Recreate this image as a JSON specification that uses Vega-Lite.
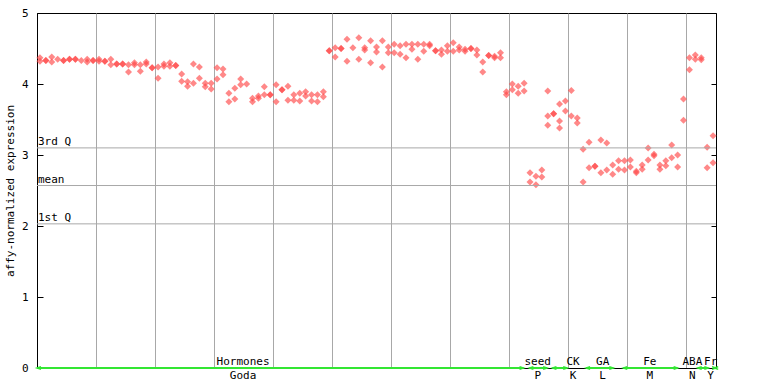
{
  "$schema": "https://vega.github.io/schema/vega-lite/v6.json",
  "width": 679,
  "height": 355,
  "autosize": {"type": "none"},
  "padding": {"left": 37, "top": 13, "right": 52, "bottom": 16},
  "background": "white",
  "config": {
    "view": {"stroke": "black", "strokeWidth": 1},
    "font": "DejaVu Sans Mono",
    "text": {"font": "DejaVu Sans Mono", "fontSize": 11, "color": "black"}
  },
  "datasets": {
    "pts": [
      {"s":1,"v":4.37},{"s":1,"v":4.32},{"s":2,"v":4.33},{"s":2,"v":4.33},{"s":3,"v":4.38},{"s":3,"v":4.31},
      {"s":4,"v":4.35},{"s":5,"v":4.33},{"s":5,"v":4.33},{"s":6,"v":4.35},{"s":6,"v":4.35},{"s":7,"v":4.35},{"s":7,"v":4.35},
      {"s":8,"v":4.33},{"s":9,"v":4.35},{"s":9,"v":4.31},{"s":10,"v":4.33},{"s":10,"v":4.33},{"s":11,"v":4.35},{"s":11,"v":4.32},
      {"s":12,"v":4.32},{"s":12,"v":4.32},{"s":13,"v":4.35},{"s":13,"v":4.27},{"s":14,"v":4.28},{"s":14,"v":4.28},
      {"s":15,"v":4.28},{"s":15,"v":4.28},{"s":16,"v":4.27},{"s":16,"v":4.17},{"s":17,"v":4.30},{"s":17,"v":4.27},
      {"s":18,"v":4.27},{"s":18,"v":4.18},{"s":19,"v":4.31},{"s":19,"v":4.28},{"s":20,"v":4.23},{"s":20,"v":4.23},
      {"s":21,"v":4.24},{"s":21,"v":4.08},{"s":22,"v":4.28},{"s":22,"v":4.25},{"s":23,"v":4.30},{"s":23,"v":4.25},
      {"s":24,"v":4.26},{"s":24,"v":4.26},{"s":25,"v":4.14},{"s":25,"v":4.04},{"s":26,"v":4.03},{"s":26,"v":3.97},
      {"s":27,"v":4.28},{"s":27,"v":4.01},{"s":28,"v":4.24},{"s":28,"v":4.08},{"s":29,"v":4.01},{"s":29,"v":3.96},
      {"s":30,"v":4.01},{"s":30,"v":3.93},{"s":31,"v":4.23},{"s":31,"v":4.07},{"s":32,"v":4.21},{"s":32,"v":4.13},
      {"s":33,"v":3.87},{"s":33,"v":3.75},{"s":34,"v":3.94},{"s":34,"v":3.79},{"s":35,"v":4.07},{"s":35,"v":3.99},
      {"s":36,"v":4.00},{"s":37,"v":3.80},{"s":37,"v":3.75},{"s":38,"v":3.83},{"s":38,"v":3.80},{"s":39,"v":3.96},{"s":39,"v":3.85},
      {"s":40,"v":3.85},{"s":40,"v":3.85},{"s":41,"v":3.99},{"s":41,"v":3.75},{"s":42,"v":3.92},{"s":42,"v":3.92},
      {"s":43,"v":3.97},{"s":43,"v":3.77},{"s":44,"v":3.85},{"s":44,"v":3.77},{"s":45,"v":3.87},{"s":45,"v":3.76},
      {"s":46,"v":3.89},{"s":46,"v":3.83},{"s":47,"v":3.85},{"s":47,"v":3.76},{"s":48,"v":3.85},{"s":48,"v":3.75},
      {"s":49,"v":3.89},{"s":49,"v":3.82},{"s":50,"v":4.47},{"s":50,"v":4.47},{"s":51,"v":4.51},{"s":51,"v":4.38},
      {"s":52,"v":4.50},{"s":52,"v":4.50},{"s":53,"v":4.63},{"s":53,"v":4.32},{"s":54,"v":4.51},{"s":55,"v":4.65},{"s":55,"v":4.35},
      {"s":56,"v":4.51},{"s":56,"v":4.48},{"s":57,"v":4.61},{"s":57,"v":4.30},{"s":58,"v":4.52},{"s":58,"v":4.45},
      {"s":59,"v":4.61},{"s":59,"v":4.24},{"s":60,"v":4.52},{"s":60,"v":4.44},{"s":61,"v":4.56},{"s":61,"v":4.44},
      {"s":62,"v":4.54},{"s":62,"v":4.42},{"s":63,"v":4.56},{"s":63,"v":4.37},{"s":64,"v":4.56},{"s":64,"v":4.49},
      {"s":65,"v":4.56},{"s":65,"v":4.35},{"s":66,"v":4.56},{"s":66,"v":4.46},{"s":67,"v":4.56},{"s":67,"v":4.54},
      {"s":68,"v":4.47},{"s":68,"v":4.47},{"s":69,"v":4.48},{"s":69,"v":4.42},{"s":70,"v":4.54},{"s":70,"v":4.46},
      {"s":71,"v":4.58},{"s":71,"v":4.46},{"s":72,"v":4.52},{"s":72,"v":4.48},{"s":73,"v":4.49},{"s":73,"v":4.46},
      {"s":74,"v":4.50},{"s":74,"v":4.50},{"s":75,"v":4.48},{"s":75,"v":4.41},{"s":76,"v":4.31},{"s":76,"v":4.17},
      {"s":77,"v":4.40},{"s":77,"v":4.40},{"s":78,"v":4.39},{"s":78,"v":4.37},{"s":79,"v":4.44},{"s":79,"v":4.37},
      {"s":80,"v":3.89},{"s":80,"v":3.85},{"s":81,"v":4.00},{"s":81,"v":3.92},{"s":82,"v":3.97},{"s":82,"v":3.87},
      {"s":83,"v":4.01},{"s":83,"v":3.90},{"s":84,"v":2.75},{"s":84,"v":2.62},{"s":85,"v":2.70},{"s":85,"v":2.58},
      {"s":86,"v":2.79},{"s":86,"v":2.69},{"s":87,"v":3.90},{"s":87,"v":3.55},{"s":87,"v":3.42},{"s":88,"v":3.58},{"s":88,"v":3.58},
      {"s":89,"v":3.72},{"s":89,"v":3.48},{"s":89,"v":3.38},{"s":90,"v":3.76},{"s":90,"v":3.62},{"s":91,"v":3.91},{"s":91,"v":3.55},
      {"s":92,"v":3.52},{"s":92,"v":3.45},{"s":93,"v":3.08},{"s":93,"v":2.62},{"s":94,"v":3.18},{"s":94,"v":2.82},
      {"s":95,"v":2.84},{"s":95,"v":2.84},{"s":96,"v":3.21},{"s":96,"v":2.75},{"s":97,"v":3.17},{"s":97,"v":2.79},
      {"s":98,"v":2.86},{"s":98,"v":2.73},{"s":99,"v":2.92},{"s":99,"v":2.80},{"s":100,"v":2.92},{"s":100,"v":2.79},
      {"s":101,"v":2.93},{"s":101,"v":2.83},{"s":102,"v":2.77},{"s":102,"v":2.75},{"s":103,"v":2.86},{"s":103,"v":2.80},
      {"s":104,"v":3.10},{"s":104,"v":2.93},{"s":105,"v":3.01},{"s":105,"v":2.99},{"s":106,"v":2.86},{"s":106,"v":2.80},
      {"s":107,"v":2.92},{"s":107,"v":2.85},{"s":108,"v":3.14},{"s":108,"v":2.96},{"s":109,"v":3.00},{"s":109,"v":2.83},
      {"s":110,"v":3.79},{"s":110,"v":3.49},{"s":111,"v":4.37},{"s":111,"v":4.20},{"s":112,"v":4.41},{"s":112,"v":4.35},
      {"s":113,"v":4.37},{"s":113,"v":4.34},{"s":114,"v":3.11},{"s":114,"v":2.82},{"s":115,"v":3.27},{"s":115,"v":2.89}
    ],
    "quart": [
      {"label": "3rd Q", "v": 3.10},
      {"label": "mean", "v": 2.57},
      {"label": "1st Q", "v": 2.03}
    ],
    "groups": [
      {"top": "Hormones", "bottom": "Goda", "a": 0.5, "b": 82.9, "c": 35.4},
      {"top": "seed", "bottom": "P", "a": 83.9, "b": 86.9, "c": 85.3},
      {"top": "CK", "bottom": "K", "a": 87.8, "b": 90.3, "c": 91.3},
      {"top": "GA", "bottom": "L", "a": 93.5, "b": 98.1, "c": 96.3},
      {"top": "Fe", "bottom": "M", "a": 99.8, "b": 109.0, "c": 104.3},
      {"top": "ABA", "bottom": "N", "a": 112.4, "b": 114.2, "c": 111.5},
      {"top": "Fr", "bottom": "Y", "a": 115.2, "b": 115.5, "c": 114.6}
    ]
  },
  "layer": [
    {
      "data": {"name": "pts"},
      "mark": {"type": "point", "shape": "diamond", "filled": true, "size": 49, "color": "#ff4848", "opacity": 0.65, "strokeWidth": 0},
      "encoding": {
        "x": {"field": "s", "type": "quantitative", "scale": {"domain": [0.5, 115.5], "nice": false, "zero": false},
              "axis": {"values": [10.5,20.5,30.5,40.5,50.5,60.5,70.5,80.5,90.5,100.5,110.5], "grid": true, "gridColor": "#a8a8a8",
                       "gridOpacity": 1, "gridWidth": 1, "ticks": false, "labels": false, "domain": true, "domainColor": "black", "title": null}},
        "y": {"field": "v", "type": "quantitative", "scale": {"domain": [0, 5], "nice": false, "zero": false},
              "axis": {"orient": "left", "values": [0,1,2,3,4,5], "tickSize": -6, "tickColor": "black", "domainColor": "black",
                       "labelPadding": 15, "labelFont": "DejaVu Sans Mono", "labelFontSize": 11, "labelColor": "black",
                       "grid": false, "title": "affy-normalized expression", "titleFont": "DejaVu Sans Mono", "titleFontSize": 11,
                       "titleFontWeight": "normal", "titleColor": "black", "titlePadding": 6}}
      }
    },
    {
      "data": {"name": "quart"},
      "mark": {"type": "rule", "color": "#a8a8a8", "strokeWidth": 1},
      "encoding": {
        "y": {"field": "v", "type": "quantitative",
              "axis": {"orient": "right", "values": [0,1,2,3,4,5], "labels": false, "tickSize": -5, "tickColor": "black",
                       "domain": false, "grid": false, "title": null}}
      }
    },
    {
      "data": {"name": "quart"},
      "mark": {"type": "text", "align": "left", "baseline": "alphabetic", "dx": 1, "dy": -3},
      "encoding": {
        "x": {"datum": 0.5, "type": "quantitative", "axis": null},
        "y": {"field": "v", "type": "quantitative", "axis": null},
        "text": {"field": "label"}
      }
    },
    {
      "data": {"name": "groups"},
      "mark": {"type": "rule", "color": "#33e633", "strokeWidth": 2},
      "encoding": {
        "x": {"field": "a", "type": "quantitative", "axis": null},
        "x2": {"field": "b"},
        "y": {"datum": 0, "type": "quantitative", "axis": null}
      }
    },
    {
      "data": {"name": "groups"},
      "mark": {"type": "point", "shape": "M 2 -0.7 L 0 0 L 2 0.7", "filled": false, "size": 16, "stroke": "#33e633", "strokeWidth": 1.5, "opacity": 1},
      "encoding": {
        "x": {"field": "a", "type": "quantitative", "axis": null},
        "y": {"datum": 0, "type": "quantitative", "axis": null}
      }
    },
    {
      "data": {"name": "groups"},
      "mark": {"type": "point", "shape": "M -2 -0.7 L 0 0 L -2 0.7", "filled": false, "size": 16, "stroke": "#33e633", "strokeWidth": 1.5, "opacity": 1},
      "encoding": {
        "x": {"field": "b", "type": "quantitative", "axis": null},
        "y": {"datum": 0, "type": "quantitative", "axis": null}
      }
    },
    {
      "data": {"name": "groups"},
      "mark": {"type": "text", "align": "center", "baseline": "alphabetic", "dy": -3},
      "encoding": {
        "x": {"field": "c", "type": "quantitative", "axis": null},
        "y": {"datum": 0, "type": "quantitative", "axis": null},
        "text": {"field": "top"}
      }
    },
    {
      "data": {"name": "groups"},
      "mark": {"type": "text", "align": "center", "baseline": "alphabetic", "dy": 11},
      "encoding": {
        "x": {"field": "c", "type": "quantitative", "axis": null},
        "y": {"datum": 0, "type": "quantitative", "axis": null},
        "text": {"field": "bottom"}
      }
    }
  ],
  "resolve": {"axis": {"x": "independent", "y": "independent"}}
}
